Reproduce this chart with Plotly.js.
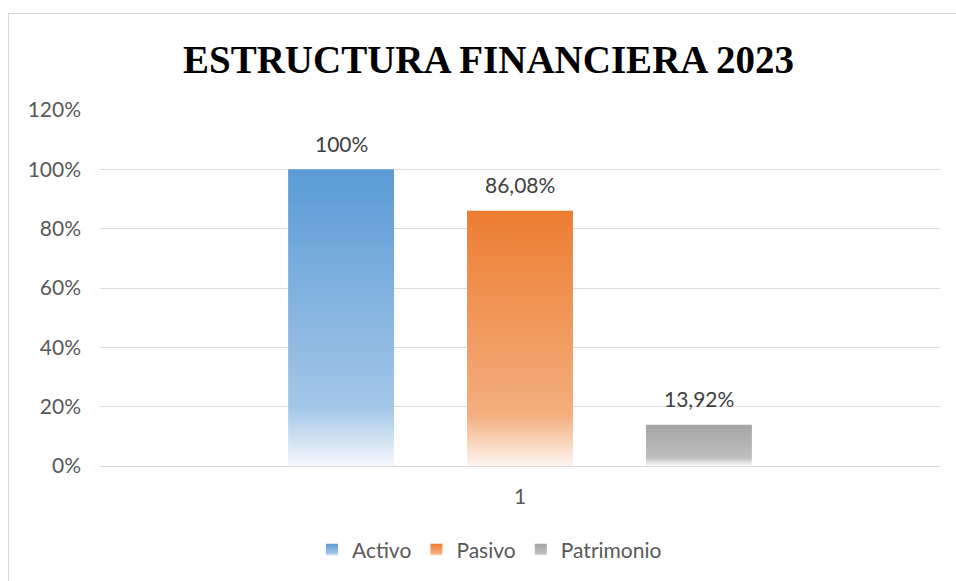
<!DOCTYPE html>
<html>
<head>
<meta charset="utf-8">
<script src="https://cdn.plot.ly/plotly-3.0.1.min.js"></script>
<style>
  html, body { margin: 0; padding: 0; background: #ffffff; overflow: hidden; }
  #chart { position: absolute; left: 0; top: 0; width: 956px; height: 581px; }
  #frame { position: absolute; left: 8px; top: 13px; width: 1200px; height: 1200px;
           border: 1px solid #d9d9d9; pointer-events: none; }
</style>
</head>
<body>
<div id="chart"></div>
<div id="frame"></div>
<script>
// ---- data ----
const categories = ["1"];
const seriesNames = ["Activo", "Pasivo", "Patrimonio"];
const seriesValues = [1.0, 0.8608, 0.1392];
const yTickVals = [0, 0.2, 0.4, 0.6, 0.8, 1.0, 1.2];
const titleText = "ESTRUCTURA FINANCIERA 2023";

// ---- style ----
const topColors = ["#5B9BD5", "#ED7D31", "#A5A5A5"];
const midColors = ["#A3C6E8", "#F3AE7E", "#BEBEBE"];
const endColors = ["#F4F8FC", "#FDF5F0", "#FAFAFA"];
const BARGAP = 0.361, BARGROUPGAP = 0.408;
const fontFam = "Lato, 'Open Sans', sans-serif";

function fmtPct(v) {
  const r = Math.round(v * 10000) / 100;
  return String(r).replace('.', ',') + '%';
}

const traces = seriesNames.map((name, i) => ({
  type: 'bar',
  name: name,
  x: categories,
  y: [seriesValues[i]],
  marker: { color: topColors[i], line: { width: 0 } },
  hoverinfo: 'skip'
}));

const slot = (1 - BARGAP) / seriesNames.length;
const annotations = seriesValues.map((v, i) => ({
  xref: 'x', yref: 'y',
  x: (i - (seriesNames.length - 1) / 2) * slot,
  y: v,
  yshift: 26,
  yanchor: 'middle',
  xanchor: 'center',
  showarrow: false,
  text: fmtPct(v),
  font: { family: fontFam, size: 21, color: '#404040' }
}));

const layout = {
  width: 956, height: 581,
  paper_bgcolor: 'rgba(0,0,0,0)',
  plot_bgcolor: 'rgba(0,0,0,0)',
  margin: { l: 100, r: 16, t: 110, b: 115 },
  barmode: 'group',
  bargap: BARGAP,
  bargroupgap: BARGROUPGAP,
  separators: ',.',
  title: {
    text: '<b>' + titleText + '</b>',
    x: 0.511, xref: 'container', xanchor: 'center',
    y: 0.897, yref: 'container', yanchor: 'middle',
    font: { family: "'Liberation Serif', 'Times New Roman', serif", size: 39, color: '#000000' }
  },
  xaxis: {
    type: 'category',
    showgrid: false,
    showline: true, linecolor: '#d9d9d9', linewidth: 1,
    ticks: '',
    ticklabelstandoff: 12,
    tickfont: { family: fontFam, size: 21, color: '#595959' },
    fixedrange: true
  },
  yaxis: {
    range: [0, 1.2],
    tickvals: yTickVals,
    tickformat: '.0%',
    showgrid: true, gridcolor: '#dedede', gridwidth: 1,
    zeroline: false,
    showline: false,
    ticks: '',
    ticklabelstandoff: 18,
    tickfont: { family: fontFam, size: 21, color: '#595959' },
    fixedrange: true
  },
  showlegend: true,
  legend: {
    orientation: 'h',
    xref: 'container', x: 0.512, xanchor: 'center',
    yref: 'container', y: 0.053, yanchor: 'middle',
    font: { family: fontFam, size: 21, color: '#595959' },
    itemwidth: 30,
    traceorder: 'normal'
  },
  annotations: annotations
};

Plotly.newPlot('chart', traces, layout, { staticPlot: true, displayModeBar: false }).then(function (gd) {
  const svgNS = 'http://www.w3.org/2000/svg';
  const svg = gd.querySelector('svg.main-svg');
  let defs = svg.querySelector('defs');
  if (!defs) { defs = document.createElementNS(svgNS, 'defs'); svg.insertBefore(defs, svg.firstChild); }
  seriesNames.forEach((n, i) => {
    const g = document.createElementNS(svgNS, 'linearGradient');
    g.setAttribute('id', 'barGrad' + i);
    g.setAttribute('x1', '0'); g.setAttribute('y1', '0');
    g.setAttribute('x2', '0'); g.setAttribute('y2', '1');
    [[0, topColors[i]], [0.8, midColors[i]], [1, endColors[i]]].forEach(([o, c]) => {
      const s = document.createElementNS(svgNS, 'stop');
      s.setAttribute('offset', o);
      s.setAttribute('stop-color', c);
      g.appendChild(s);
    });
    defs.appendChild(g);
  });
  gd.querySelectorAll('.barlayer .trace').forEach((t, i) => {
    t.querySelectorAll('.point path').forEach(p => { p.style.fill = 'url(#barGrad' + i + ')'; });
  });
  gd.querySelectorAll('.legend .traces').forEach((t, i) => {
    t.querySelectorAll('.legendpoints path').forEach(p => { p.style.fill = 'url(#barGrad' + i + ')'; });
  });
});
</script>
</body>
</html>
